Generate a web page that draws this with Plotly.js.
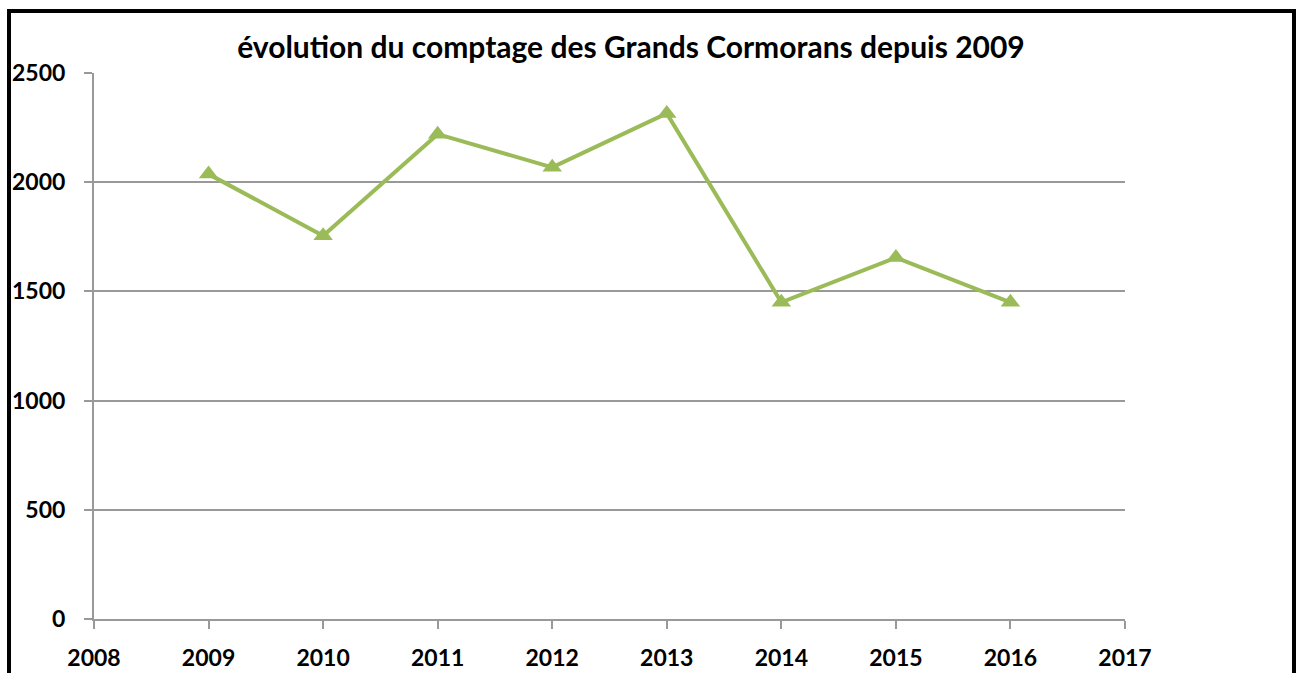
<!DOCTYPE html>
<html>
<head>
<meta charset="utf-8">
<script src="https://cdn.plot.ly/plotly-3.0.1.min.js"></script>
<style>
html,body{margin:0;padding:0;background:#fff;}
#wrap{position:relative;width:1301px;height:673px;}
#chart{width:1301px;height:673px;}
#frame{position:absolute;left:7px;top:9px;width:1281px;height:662px;border-left:4px solid #000;border-top:4px solid #000;border-right:4px solid #000;border-bottom:1px solid #999;pointer-events:none;}
</style>
</head>
<body>
<div id="wrap"><div id="chart"></div><div id="frame"></div></div>
<script>
const years = [2009, 2010, 2011, 2012, 2013, 2014, 2015, 2016];
const counts = [2037, 1755, 2220, 2068, 2315, 1450, 1655, 1450];
const xTicks = [2008, 2009, 2010, 2011, 2012, 2013, 2014, 2015, 2016, 2017];
const yTicks = [0, 500, 1000, 1500, 2000, 2500];
const titleText = "évolution du comptage des Grands Cormorans depuis 2009";

const font = "Lato, 'Open Sans', sans-serif";
const trace = {
  x: years, y: counts, type: 'scatter', mode: 'lines+markers',
  line: {color: '#9BBB59', width: 4},
  marker: {symbol: 'triangle-up', size: 17, color: '#9BBB59'},
  showlegend: false, hoverinfo: 'x+y'
};
const layout = {
  width: 1301, height: 673,
  margin: {l: 94, r: 176, t: 73, b: 54},
  paper_bgcolor: '#fff', plot_bgcolor: '#fff',
  title: {text: titleText, font: {family: font, size: 30, color: '#000', weight: 700},
          xref: 'container', x: 0.485, xanchor: 'center', yref: 'container', y: 0.929, yanchor: 'middle'},
  xaxis: {range: [2008, 2017], tickvals: xTicks, ticktext: xTicks.map(String),
          showgrid: false, zeroline: false, showline: true, linecolor: '#999', linewidth: 2,
          ticks: 'outside', ticklen: 8, tickcolor: '#999', tickwidth: 2,
          tickfont: {family: font, size: 23, color: '#000', weight: 700}, ticklabelstandoff: 9},
  yaxis: {range: [0, 2500], tickvals: yTicks, ticktext: yTicks.map(String),
          showgrid: true, gridcolor: '#999', gridwidth: 2, zeroline: false,
          showline: true, linecolor: '#999', linewidth: 2,
          ticks: 'outside', ticklen: 8, tickcolor: '#999', tickwidth: 2,
          tickfont: {family: font, size: 23, color: '#000', weight: 700}, ticklabelstandoff: 14}
};
Plotly.newPlot('chart', [trace], layout, {displayModeBar: false, staticPlot: true});
</script>
</body>
</html>
